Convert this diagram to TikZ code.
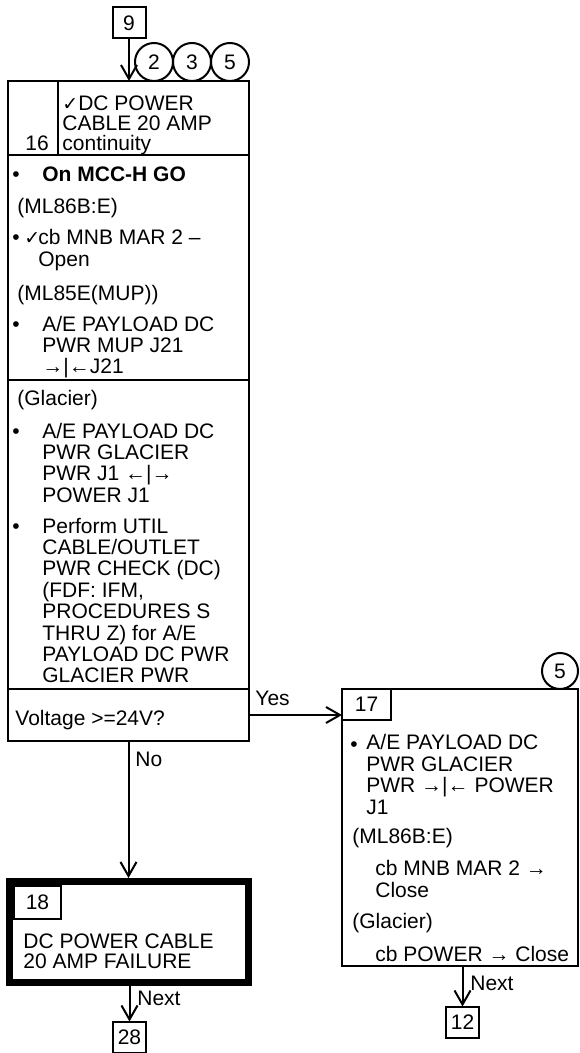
\documentclass[tikz,border=0pt]{standalone}
\usepackage{fontspec}
\setmainfont{Liberation Sans}
\newfontfamily\symfont{DejaVu Sans}
\usetikzlibrary{arrows.meta}
\newcommand{\bodyfont}{\fontsize{10.5}{10.7}\selectfont}
\newcommand{\tightfont}{\fontsize{10.5}{10}\selectfont}
\newcommand{\chk}{{\symfont\fontsize{9.5}{9.5}\selectfont ✓}}
\tikzset{
  box/.style={draw, line width=1pt, inner sep=0pt, outer sep=0pt},
  numbox/.style={box, minimum width=16.5pt, minimum height=15.5pt},
  ref/.style={draw, circle, line width=1pt, minimum size=19pt, inner sep=0pt},
  txt/.style={anchor=base west, inner sep=0pt, align=left},
  arr/.style={line width=1pt, -{Straight Barb[length=7pt,width=8pt]}},
}
\begin{document}
\begin{tikzpicture}[x=0.5pt, y=-0.5pt, font=\bodyfont]
\useasboundingbox (0,0) rectangle (579,1053);
% entry
\node[numbox] (b9) at (129,23) {9};
\node[ref] (c2) at (154,62) {2};
\node[ref] (c3) at (192,62) {3};
\node[ref] (c5) at (230,62) {5};
% block 16 (multi-line texts sit on their last line)
\node[box, anchor=north west, minimum width=120.5pt, minimum height=330pt] (b16) at (8,81) {};
\draw[line width=1pt] (8,155) -- (249,155);
\draw[line width=1pt] (58,81) -- (58,155);
\draw[line width=1pt] (8,380) -- (249,380);
\draw[line width=1pt] (8,689) -- (249,689);
\node[txt, font=\tightfont] (n16) at (25,151) {16};
\node[txt, font=\tightfont] (h16) at (62,151) {\chk DC POWER\\CABLE 20 AMP\\continuity};
\node[txt] (d1) at (12,182) {•};
\node[txt, font=\bodyfont\bfseries] (s1) at (42,182) {On MCC-H GO};
\node[txt] (s2) at (17,214) {(ML86B:E)};
\node[txt] (d2) at (12,245) {•};
\node[txt] (k2) at (24,245) {\chk};
\node[txt] (s3) at (38,266.4) {cb MNB MAR 2 –\\Open};
\node[txt] (s4) at (17,300) {(ML85E(MUP))};
\node[txt] (d3) at (12,331) {•};
\node[txt] (s5) at (42,373.8) {A/E PAYLOAD DC\\PWR MUP J21\\→|←J21};
\node[txt] (s6) at (17,405) {(Glacier)};
\node[txt] (d4) at (12,438) {•};
\node[txt] (s7) at (42,502.2) {A/E PAYLOAD DC\\PWR GLACIER\\PWR J1 ←|→\\POWER J1};
\node[txt] (d5) at (12,533) {•};
\node[txt] (s8) at (42,682.8) {Perform UTIL\\CABLE/OUTLET\\PWR CHECK (DC)\\(FDF: IFM,\\PROCEDURES S\\THRU Z) for A/E\\PAYLOAD DC PWR\\GLACIER PWR};
\node[txt] (q16) at (15,725) {Voltage >=24V?};
\coordinate (yes) at (249,715);
% block 17
\node[box, anchor=north west, minimum width=118pt, minimum height=138.5pt] (b17) at (342,689) {};
\node[box, anchor=north west, minimum width=24.5pt, minimum height=15.5pt] (l17) at (342,689) {17};
\node[ref, minimum size=18pt] (c5b) at (560,671) {5};
\node[txt] (d6) at (350,751) {•};
\node[txt] (r1) at (366,814) {A/E PAYLOAD DC\\PWR GLACIER\\PWR →|← POWER\\J1};
\node[txt] (r2) at (352,843) {(ML86B:E)};
\node[txt] (r3) at (375,897) {cb MNB MAR 2 →\\Close};
\node[txt] (r4) at (352,928) {(Glacier)};
\node[txt] (r5) at (375,961) {cb POWER → Close};
\node[numbox] (b12) at (462.5,1022) {12};
% block 18
\node[draw, line width=3.5pt, inner sep=0pt, outer sep=1.75pt, minimum width=119.5pt, minimum height=50.5pt] (b18) at (129,932) {};
\node[box, anchor=north west, minimum width=23.5pt, minimum height=16.5pt] (l18) at (14,886) {18};
\node[txt, font=\tightfont] (f18) at (23,968) {DC POWER CABLE\\20 AMP FAILURE};
\node[numbox] (b28) at (129.5,1037) {28};
% connectors
\draw[arr] (b9) -- (b9 |- b16.north);
\draw[arr] (yes) -- (yes -| b17.west);
\node[txt] (lyes) at (255,705) {Yes};
\draw[arr] (b16.south) -- (b16.south |- b18.north);
\node[txt] (lno) at (135,766) {No};
\draw[arr] (b18.south -| b28) -- (b28.north);
\node[txt] (lnx1) at (137,1005) {Next};
\draw[arr] (b17.south -| b12) -- (b12.north);
\node[txt] (lnx2) at (470,990) {Next};
\end{tikzpicture}
\end{document}
